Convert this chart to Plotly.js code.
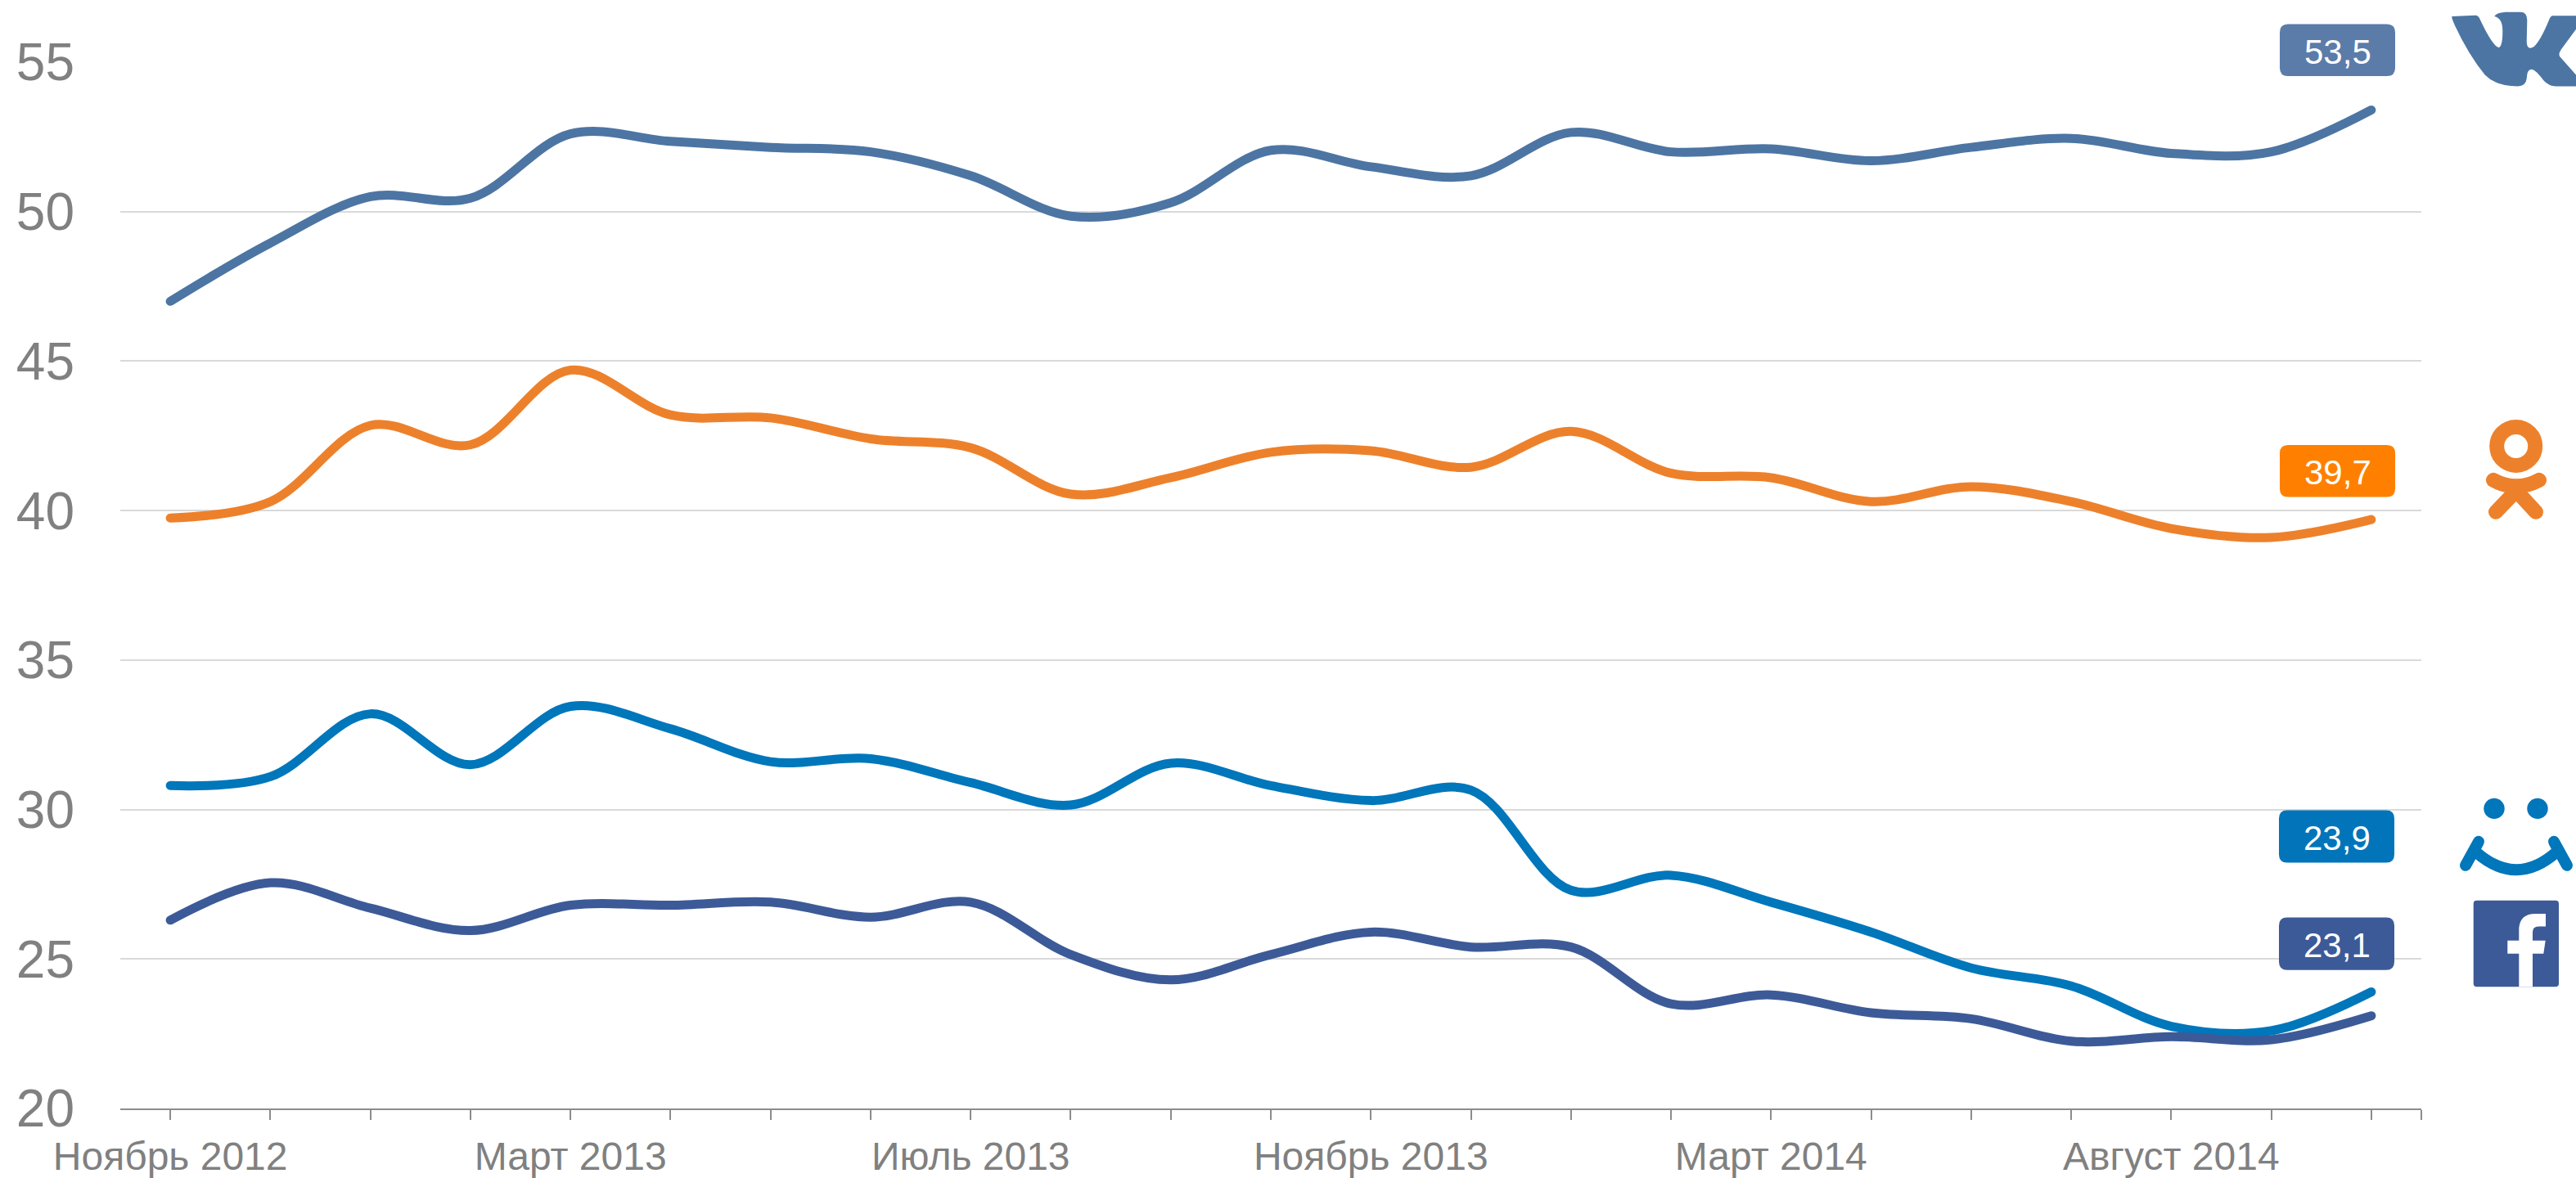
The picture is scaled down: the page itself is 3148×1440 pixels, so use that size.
<!DOCTYPE html>
<html><head><meta charset="utf-8">
<script src="https://cdn.plot.ly/plotly-3.0.1.min.js"></script>
<style>
html,body{margin:0;padding:0;background:#fff}
path.js-line{stroke-linecap:round}
.shapelayer path{stroke-linecap:round}
</style></head><body><div id="chart" style="width:3148px;height:1440px"></div>
<script>
var tickLabels = ["Ноябрь 2012","","","","Март 2013","","","","Июль 2013","","","","Ноябрь 2013","","","","Март 2014","","","","Август 2014","",""];
var vk = [47.0,48.95,50.5,50.45,52.6,52.35,52.15,52.0,51.2,49.85,50.3,52.05,51.5,51.2,52.65,52.0,52.1,51.7,52.15,52.45,51.95,52.0,53.4];
var ok = [39.75,40.3,42.85,42.2,44.7,43.2,43.1,42.4,42.1,40.55,41.1,41.95,42.0,41.45,42.65,41.25,41.1,40.3,40.8,40.3,39.4,39.1,39.7];
var mm = [30.8,31.1,33.2,31.5,33.45,32.7,31.6,31.7,30.9,30.15,31.55,30.8,30.3,30.65,27.3,27.8,26.9,25.9,24.7,24.1,22.75,22.6,23.9];
var fb = [26.3,27.55,26.7,25.95,26.8,26.8,26.9,26.4,26.9,25.15,24.3,25.15,25.9,25.4,25.4,23.5,23.8,23.2,23.0,22.25,22.4,22.3,23.1];
var lastLabels = ["53,5","39,7","23,9","23,1"];
var lineColors = ["#4C75A3","#ED812B","#0076BB","#3D5A98"];
var badgeColors = ["#5B7CA9","#FF8000","#0275BA","#3D5A98"];
var series = [vk, ok, mm, fb];
var names = ["ВКонтакте","Одноклассники","Мой Мир","Facebook"];

var L=147,R=2959,T=76,B=1355.3;
function px(x){return (x-L)/(R-L);}
function py(y){return (B-y)/(B-T);}
function pth(d){
  return d.replace(/(-?[\d.]+),(-?[\d.]+)/g,function(m,a,b){return px(+a).toFixed(6)+','+py(+b).toFixed(6);});
}
function shp(d,fill,stroke,w){
  return {type:'path',xref:'paper',yref:'paper',path:pth(d),fillcolor:fill||'rgba(0,0,0,0)',
    line:{color:stroke||'rgba(0,0,0,0)',width:w||0},layer:'above'};
}
function circ(cx,cy,r,fill,stroke,w){
  return {type:'circle',xref:'paper',yref:'paper',x0:px(cx-r),x1:px(cx+r),y0:py(cy+r),y1:py(cy-r),
    fillcolor:fill||'rgba(0,0,0,0)',line:{color:stroke||'rgba(0,0,0,0)',width:w||0},layer:'above'};
}
function rr(x0,y0,x1,y1,r){
  return 'M'+(x0+r)+','+y0+' L'+(x1-r)+','+y0+' Q'+x1+','+y0+' '+x1+','+(y0+r)+
   ' L'+x1+','+(y1-r)+' Q'+x1+','+y1+' '+(x1-r)+','+y1+' L'+(x0+r)+','+y1+' Q'+x0+','+y1+' '+x0+','+(y1-r)+
   ' L'+x0+','+(y0+r)+' Q'+x0+','+y0+' '+(x0+r)+','+y0+' Z';
}
// zoom coordinates to page pixels for the logo tracings
function Z(d,sy,oy){
  return d.replace(/(-?[\d.]+),(-?[\d.]+)/g,function(m,a,b){return (2700+a/3).toFixed(1)+','+(oy+b/sy).toFixed(1);});
}
var badgeBoxes=[[2786,29.5,2927,93],[2786,544,2927,607.5],[2785,990.7,2926,1054.8],[2785,1121.7,2926,1186]];
var shapes=[], annotations=[];
badgeBoxes.forEach(function(b,i){
  shapes.push(shp(rr(b[0],b[1],b[2],b[3],10),badgeColors[i]));
  annotations.push({xref:'paper',yref:'paper',x:px((b[0]+b[2])/2),y:py((b[1]+b[3])/2+2),text:lastLabels[i],
    showarrow:false,xanchor:'center',yanchor:'middle',font:{family:'"Liberation Sans"',size:42,color:'#fff'}});
});
// VK logo
shapes.push(shp(Z('M890,45 Q885,45 900,70 Q950,150 1010,205 Q1050,236 1130,236 Q1160,236 1163,215 Q1165,190 1180,190 Q1195,190 1225,220 Q1245,236 1270,236 L1344,236 L1344,205 L1285,155 Q1278,148 1290,135 L1344,80 L1344,43 L1260,43 Q1250,43 1245,55 Q1215,110 1190,128 Q1165,140 1163,115 L1165,55 Q1165,33 1140,33 L1085,33 Q1050,35 1045,45 Q1075,50 1075,85 Q1075,125 1062,130 Q1040,130 990,50 Q985,42 975,42 Z',2.24,0),lineColors[0]));
// OK logo
shapes.push(circ(3074.7,545.5,23.5,null,lineColors[1],18));
shapes.push(shp('M3047,587 Q3075,602 3103,587',null,lineColors[1],18));
shapes.push(shp('M3075,600 L3050,626',null,lineColors[1],18));
shapes.push(shp('M3075,600 L3099,626',null,lineColors[1],18));
// Smile logo
shapes.push(circ(3048,988.6,12.7,lineColors[2]));
shapes.push(circ(3101,988.6,12.7,lineColors[2]));
shapes.push(shp('M3029,1029 L3013,1058',null,lineColors[2],14));
shapes.push(shp('M3121,1029 L3137,1058',null,lineColors[2],14));
shapes.push(shp('M3026,1042 Q3075,1085 3124,1042',null,lineColors[2],14));
// Facebook logo
shapes.push(shp(rr(3022.7,1101,3127,1206.5,4),lineColors[3]));
shapes.push(shp(Z('M1135,725 L1135,680 Q1140,630 1195,630 L1233,630 L1233,675 L1207,675 Q1185,675 1185,695 L1185,725 L1232,725 L1225,771 L1185,771 L1185,889 L1135,889 L1135,771 L1093,771 L1093,725 Z',2.9,900),'#fff'));

var xs=tickLabels.map(function(_,i){return i;});
var traces=series.map(function(s,i){
  return {x:xs,y:s,name:names[i],type:'scatter',mode:'lines',hoverinfo:'skip',
    line:{color:lineColors[i],width:11,shape:'spline',smoothing:1}};
});
var layout={
  width:3148,height:1440,showlegend:false,paper_bgcolor:'#fff',plot_bgcolor:'#fff',
  margin:{l:L,r:3148-R,t:T,b:1440-B,pad:0},
  font:{family:'"Liberation Sans"',color:'#808080'},
  xaxis:{range:[-0.5,22.5],tickmode:'array',tickvals:xs.concat([22.5]),ticktext:tickLabels.concat(['']),
    ticks:'outside',ticklen:12,tickwidth:2,tickcolor:'#8C8C8C',showgrid:false,zeroline:false,
    showline:true,linecolor:'#8C8C8C',linewidth:2,tickangle:0,ticklabelstandoff:3,
    tickfont:{size:48,color:'#808080',family:'"Liberation Sans"'},ticklabeloverflow:'allow'},
  yaxis:{range:[20,55],tickmode:'array',tickvals:[20,25,30,35,40,45,50,55],ticks:'',
    showgrid:true,gridcolor:'#D9D9D9',gridwidth:2,zeroline:false,showline:false,
    tickfont:{size:64,color:'#808080',family:'"Liberation Sans"'},ticklabelstandoff:55},
  shapes:shapes,annotations:annotations
};
Plotly.newPlot('chart',traces,layout,{displayModeBar:false,staticPlot:true});
</script></body></html>
